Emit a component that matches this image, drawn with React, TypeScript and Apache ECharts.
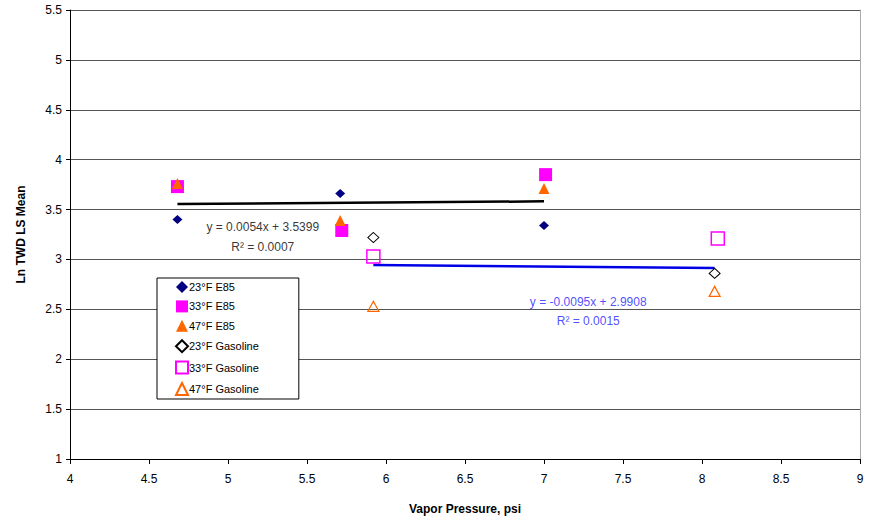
import React, { useEffect, useRef } from "react";
import * as echarts from "echarts";

const seriesNames = ["23°F E85", "33°F E85", "47°F E85", "23°F Gasoline", "33°F Gasoline", "47°F Gasoline"];
const e85_23 = [[4.68, 3.40], [5.71, 3.66], [7.0, 3.34]];
const e85_33 = [[4.68, 3.73], [5.72, 3.29], [7.01, 3.85]];
const e85_47 = [[4.68, 3.76], [5.71, 3.39], [7.0, 3.71]];
const gas_23 = [[5.92, 3.22], [8.08, 2.86]];
const gas_33 = [[5.92, 3.03], [8.1, 3.21]];
const gas_47 = [[5.92, 2.53], [8.08, 2.68]];
const trendE85 = [[4.68, 3.555], [7.0, 3.582]];
const trendGas = [[5.92, 2.944], [8.08, 2.914]];
const eqE85 = [[5.22, 3.325, "y = 0.0054x + 3.5399"], [5.22, 3.124, "R² = 0.0007"]];
const eqGas = [[7.28, 2.573, "y = -0.0095x + 2.9908"], [7.28, 2.385, "R² = 0.0015"]];

const FONT = "Liberation Sans, Arial, sans-serif";

export default function App() {
  const ref = useRef<HTMLDivElement>(null);
  useEffect(() => {
    const chart = echarts.init(ref.current!, null, { renderer: "svg" });
    const labelSeries = (data: any[], color: string) => ({
      type: "scatter",
      data: data.map((d) => ({ value: [d[0], d[1]], name: d[2] })),
      symbolSize: 0,
      silent: true,
      z: 5,
      label: {
        show: true,
        position: "inside",
        formatter: (p: any) => p.name,
        color,
        fontSize: 12,
        fontFamily: FONT,
      },
    });
    chart.setOption({
      animation: false,
      backgroundColor: "#fff",
      grid: { left: 70, right: 17, top: 10, bottom: 63 },
      legend: {
        left: 157,
        top: 278,
        orient: "vertical",
        backgroundColor: "#fff",
        borderColor: "#000",
        borderWidth: 1,
        borderRadius: 0,
        padding: [3, 40, 3, 18],
        itemGap: 7.4,
        itemWidth: 12,
        itemHeight: 12,
        textStyle: { fontSize: 11, fontFamily: FONT, color: "#000", padding: [0, 0, 0, -4] },
        data: [
          { name: seriesNames[0], icon: "diamond" },
          { name: seriesNames[1], icon: "rect" },
          { name: seriesNames[2], icon: "triangle" },
          { name: seriesNames[3], icon: "diamond" },
          { name: seriesNames[4], icon: "rect" },
          { name: seriesNames[5], icon: "triangle" },
        ],
      },
      xAxis: {
        type: "value",
        min: 4,
        max: 9,
        interval: 0.5,
        name: "Vapor Pressure, psi",
        nameLocation: "middle",
        nameGap: 44,
        nameTextStyle: { fontSize: 12, fontWeight: "bold", fontFamily: FONT, color: "#000" },
        axisLine: { show: true, onZero: false, lineStyle: { color: "#000", width: 1 } },
        axisTick: { show: true, length: 5, lineStyle: { color: "#000" } },
        axisLabel: { fontSize: 12, fontFamily: FONT, color: "#000", margin: 14 },
        splitLine: { show: false },
      },
      yAxis: [
        {
          type: "value",
          min: 1,
          max: 5.5,
          interval: 0.5,
          name: "Ln TWD LS Mean",
          nameLocation: "middle",
          nameGap: 43,
          nameTextStyle: { fontSize: 12, fontWeight: "bold", fontFamily: FONT, color: "#000" },
          axisLine: { show: true, onZero: false, lineStyle: { color: "#000", width: 1 } },
          axisTick: { show: true, length: 4, lineStyle: { color: "#000" } },
          axisLabel: { fontSize: 12, fontFamily: FONT, color: "#000", margin: 8 },
          splitLine: { show: true, lineStyle: { color: "#555", width: 1 } },
        },
        {
          type: "value",
          position: "right",
          min: 1,
          max: 5.5,
          interval: 0.5,
          axisLine: { show: true, lineStyle: { color: "#aaa", width: 1 } },
          axisTick: { show: false },
          axisLabel: { show: false },
          splitLine: { show: false },
        },
      ],
      series: [
        {
          name: "trendE85",
          type: "line",
          data: trendE85,
          symbol: "none",
          lineStyle: { color: "#000", width: 2.5 },
          z: 1,
          silent: true,
        },
        {
          name: "trendGas",
          type: "line",
          data: trendGas,
          symbol: "none",
          lineStyle: { color: "#0000e6", width: 2.5 },
          z: 1,
          silent: true,
        },
        {
          name: seriesNames[0],
          type: "scatter",
          data: e85_23,
          symbol: "diamond",
          symbolSize: [10, 9],
          itemStyle: { color: "#000080", opacity: 1 },
          z: 3,
        },
        {
          name: seriesNames[1],
          type: "scatter",
          data: e85_33,
          symbol: "rect",
          symbolSize: 13,
          itemStyle: { color: "#ff00ff", opacity: 1 },
          z: 3,
        },
        {
          name: seriesNames[2],
          type: "scatter",
          data: e85_47,
          symbol: "triangle",
          symbolSize: [11, 11],
          itemStyle: { color: "#ff6600", opacity: 1 },
          z: 3,
        },
        {
          name: seriesNames[3],
          type: "scatter",
          data: gas_23,
          symbol: "diamond",
          symbolSize: [11, 10],
          itemStyle: { color: "#fff", borderColor: "#000", borderWidth: 1, opacity: 1 },
          z: 3,
        },
        {
          name: seriesNames[4],
          type: "scatter",
          data: gas_33,
          symbol: "rect",
          symbolSize: 13,
          itemStyle: { color: "rgba(255,255,255,0)", borderColor: "#ff00ff", borderWidth: 1.5, opacity: 1 },
          z: 3,
        },
        {
          name: seriesNames[5],
          type: "scatter",
          data: gas_47,
          symbol: "triangle",
          symbolSize: [11, 10],
          itemStyle: { color: "rgba(255,255,255,0)", borderColor: "#ff6600", borderWidth: 1.2, opacity: 1 },
          z: 3,
        },
        labelSeries(eqE85, "#000"),
        labelSeries(eqGas, "#2222ff"),
      ],
    });
    return () => chart.dispose();
  }, []);
  return <div ref={ref} style={{ width: 877, height: 522, position: "absolute", left: 0, top: 0 }} />;
}
